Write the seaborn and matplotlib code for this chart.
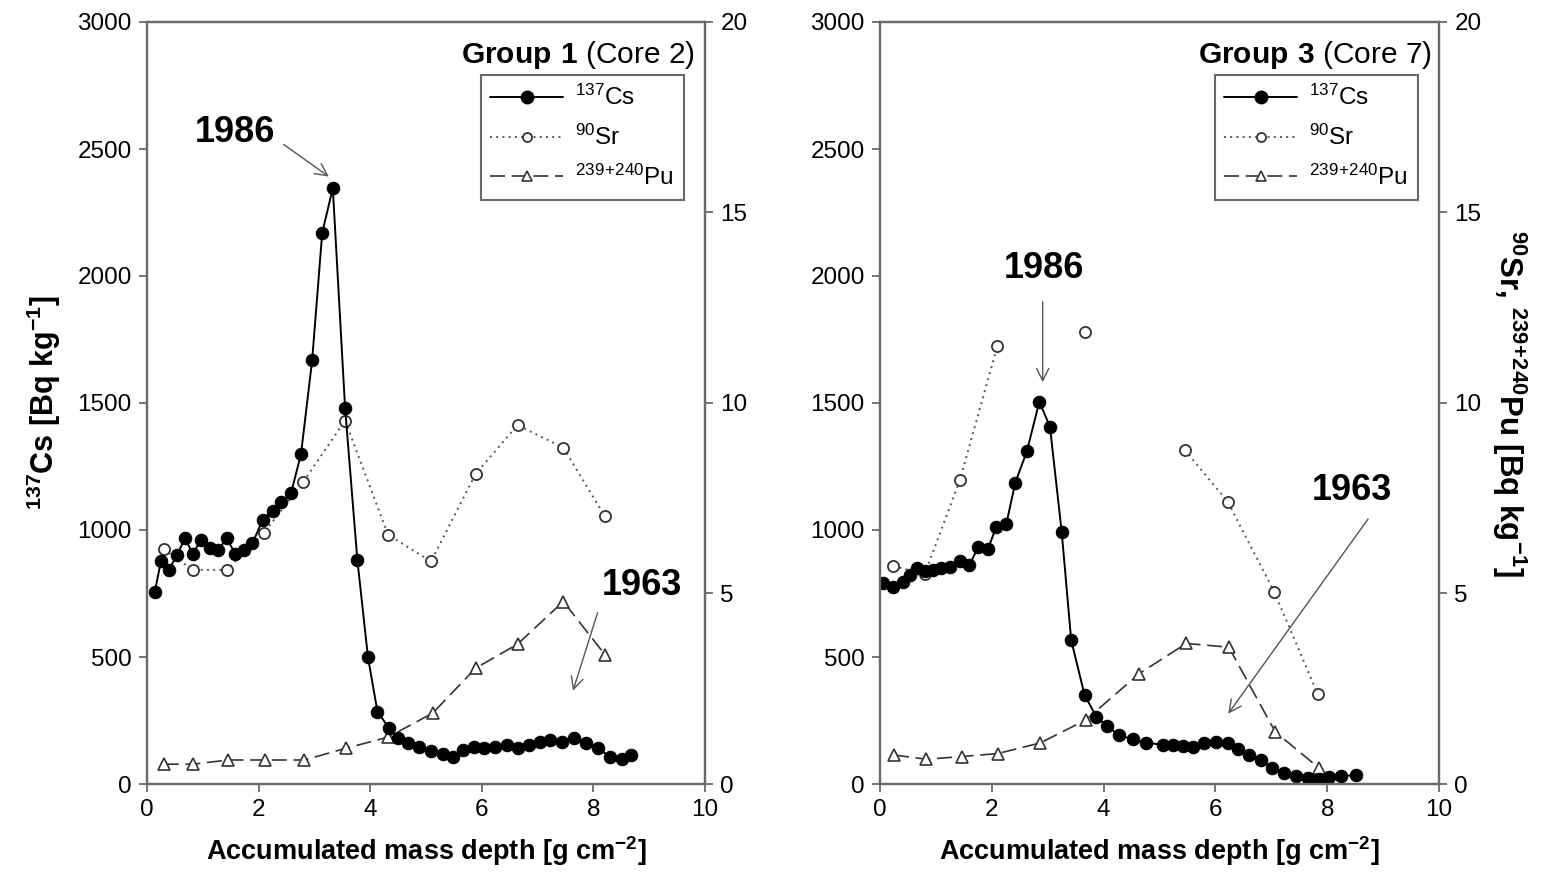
import numpy as np
import pandas as pd
import matplotlib
matplotlib.use("Agg")
import matplotlib.pyplot as plt
import seaborn as sns
from matplotlib.lines import Line2D

# ---------------- data ----------------
left_cs_x = [0.14, 0.25, 0.39, 0.54, 0.68, 0.82, 0.97, 1.13, 1.27, 1.43, 1.58, 1.73, 1.89, 2.07, 2.25,
             2.41, 2.58, 2.76, 2.96, 3.14, 3.33, 3.55, 3.77, 3.96, 4.13, 4.33, 4.49, 4.67, 4.88, 5.09,
             5.30, 5.49, 5.67, 5.86, 6.04, 6.23, 6.46, 6.65, 6.84, 7.04, 7.23, 7.44, 7.65, 7.86, 8.08,
             8.30, 8.51, 8.67]
left_cs_y = [757, 878, 843, 902, 967, 907, 961, 928, 921, 967, 907, 921, 947, 1039, 1076,
             1111, 1144, 1299, 1669, 2170, 2346, 1480, 882, 499, 285, 222, 180, 160, 144, 131,
             120, 107, 134, 147, 141, 144, 154, 141, 154, 167, 173, 167, 180, 160, 141,
             107, 100, 113]
left_sr_x = [0.30, 0.82, 1.43, 2.10, 2.80, 3.55, 4.32, 5.09, 5.89, 6.64, 7.46, 8.20]
left_sr_y = [6.16, 5.62, 5.62, 6.60, 7.93, 9.54, 6.54, 5.84, 8.14, 9.42, 8.83, 7.04]
left_pu_x = [0.30, 0.83, 1.45, 2.11, 2.82, 3.57, 4.32, 5.12, 5.89, 6.64, 7.46, 8.21]
left_pu_y = [0.52, 0.52, 0.63, 0.63, 0.63, 0.94, 1.23, 1.86, 3.04, 3.67, 4.79, 3.39]

right_cs_x = [0.06, 0.24, 0.41, 0.54, 0.67, 0.80, 0.95, 1.10, 1.25, 1.43, 1.60, 1.76, 1.93, 2.08, 2.26,
              2.42, 2.63, 2.85, 3.04, 3.25, 3.42, 3.66, 3.87, 4.06, 4.27, 4.52, 4.76, 5.06, 5.24, 5.42,
              5.60, 5.80, 6.01, 6.22, 6.40, 6.61, 6.82, 7.02, 7.23, 7.44, 7.65, 7.86, 8.04, 8.24, 8.52]
right_cs_y = [790, 774, 797, 823, 849, 840, 843, 849, 856, 878, 862, 934, 924, 1013, 1024,
              1186, 1312, 1505, 1407, 993, 567, 350, 265, 228, 193, 176, 163, 154, 154, 150,
              147, 160, 167, 160, 137, 114, 94, 62, 42, 31, 22, 18, 29, 31, 35]
right_sr_x = [0.24, 0.80, 1.43, 2.10, 3.66, 5.45, 6.22, 7.05, 7.83]
right_sr_y = [5.72, 5.51, 7.98, 11.50, 11.87, 8.77, 7.41, 5.05, 2.36]
right_sr_seg = [0, 0, 0, 0, 1, 2, 2, 2, 2]
right_pu_x = [0.25, 0.83, 1.46, 2.11, 2.87, 3.68, 4.64, 5.48, 6.24, 7.07, 7.86]
right_pu_y = [0.76, 0.65, 0.72, 0.80, 1.08, 1.68, 2.90, 3.69, 3.59, 1.37, 0.41]

titles = ["Group 1", "Group 3"]
subtitles = ["(Core 2)", "(Core 7)"]
x_ticks = [0, 2, 4, 6, 8, 10]
cs_ticks = [0, 500, 1000, 1500, 2000, 2500, 3000]
sr_ticks = [0, 5, 10, 15, 20]
legend_labels = [r"$^{137}$Cs", r"$^{90}$Sr", r"$^{239\!+\!240}$Pu"]

# ---------------- style ----------------
sns.set_theme(style="ticks")
plt.rcParams['font.family'] = ['Liberation Sans', 'DejaVu Sans']
plt.rcParams['mathtext.fontset'] = 'custom'
plt.rcParams['mathtext.rm'] = 'Liberation Sans'
plt.rcParams['mathtext.bf'] = 'Liberation Sans:bold'
plt.rcParams['mathtext.default'] = 'regular'
for k in ('text.color', 'axes.labelcolor', 'xtick.labelcolor', 'ytick.labelcolor'):
    plt.rcParams[k] = 'black'

SPINE = '#6a6a6a'
W, H = 1543, 880
fig = plt.figure(figsize=(W / 100, H / 100), dpi=100)
ax_l = fig.add_axes([147 / W, 1 - 784 / H, 558 / W, 762 / H])
ax_r = fig.add_axes([880 / W, 1 - 784 / H, 559 / W, 762 / H])

cs_kw = dict(color='black', linestyle='-', linewidth=1.4, marker='o', markersize=9,
             markerfacecolor='black', markeredgecolor='black')
sr_kw = dict(color='#555555', linestyle=(0, (1, 2.2)), linewidth=1.4, marker='o', markersize=8,
             markerfacecolor='white', markeredgecolor='#333333', markeredgewidth=1.3)
pu_kw = dict(color='#333333', linestyle=(0, (9, 4)), linewidth=1.2, marker='^', markersize=9,
             markerfacecolor='white', markeredgecolor='#333333', markeredgewidth=1.2)

panels = [
    (ax_l, left_cs_x, left_cs_y, left_sr_x, left_sr_y, [0] * len(left_sr_x), left_pu_x, left_pu_y),
    (ax_r, right_cs_x, right_cs_y, right_sr_x, right_sr_y, right_sr_seg, right_pu_x, right_pu_y),
]

twins = []
for i, (ax, csx, csy, srx, sry, srseg, pux, puy) in enumerate(panels):
    ax2 = ax.twinx()
    twins.append(ax2)
    df_cs = pd.DataFrame({'x': csx, 'y': csy})
    df_sr = pd.DataFrame({'x': srx, 'y': sry, 'seg': srseg})
    df_pu = pd.DataFrame({'x': pux, 'y': puy})
    sns.lineplot(data=df_sr, x='x', y='y', units='seg', estimator=None, sort=False, ax=ax2,
                 legend=False, **sr_kw)
    sns.lineplot(data=df_pu, x='x', y='y', estimator=None, sort=False, ax=ax2, legend=False, **pu_kw)
    ax.set_zorder(ax2.get_zorder() + 1)
    ax.patch.set_visible(False)
    sns.lineplot(data=df_cs, x='x', y='y', estimator=None, sort=False, ax=ax, legend=False, **cs_kw)

    ax.set_xlim(0, 10)
    ax.set_ylim(0, 3000)
    ax2.set_ylim(0, 20)
    ax.set_xticks(x_ticks)
    ax.set_yticks(cs_ticks)
    ax2.set_yticks(sr_ticks)
    ax.set_xlabel("Accumulated mass depth [g cm$^{-2}$]", fontsize=19.5, fontweight='bold', labelpad=9)
    ax.set_ylabel("")
    ax2.set_ylabel("")
    for a in (ax, ax2):
        a.tick_params(axis='both', direction='out', length=6, width=1.3, color=SPINE,
                      labelsize=17.5, pad=5, labelcolor='black')
        for s in a.spines.values():
            s.set_visible(True)
            s.set_color(SPINE)
            s.set_linewidth(1.6)

    # title and legend
    ax.text(0.982 if i == 0 else 0.987, 0.957,
            r"$\bf{" + titles[i].replace(" ", r"\ ") + r"}$ " + subtitles[i],
            transform=ax.transAxes, ha='right', va='center', fontsize=21.5, zorder=10)
    handles = [Line2D([], [], **cs_kw), Line2D([], [], **{**sr_kw, 'markersize': 6.5}),
               Line2D([], [], **{**pu_kw, 'markersize': 7})]
    leg = ax.legend(handles, legend_labels, loc='upper right',
                    bbox_to_anchor=(0.962, 0.930), fontsize=17.5, frameon=True, fancybox=False,
                    handlelength=3.0, handletextpad=0.5, labelspacing=0.6, borderpad=0.4,
                    borderaxespad=0)
    leg.get_frame().set_edgecolor('#444444')
    leg.get_frame().set_linewidth(1.5)

ax_l.set_ylabel(r"$^{137}$Cs [Bq kg$^{-1}$]", fontsize=22, fontweight='bold', labelpad=10)
twins[1].set_ylabel(r"$^{90}$Sr, $^{239\!+\!240}$Pu [Bq kg$^{-1}$]", fontsize=22.5, fontweight='bold',
                    rotation=270, labelpad=34)

# annotations
arrow_kw = dict(arrowstyle='->', color='#555555', lw=1.0, mutation_scale=22)

def mark(ax, label, txy, start, end):
    ax.text(txy[0], txy[1], label, fontsize=26, fontweight='bold', ha='center', va='center', zorder=12)
    ax.annotate('', xy=end, xytext=start, arrowprops=arrow_kw, zorder=12)

mark(ax_l, "1986", (1.57, 2563), (2.41, 2524), (3.30, 2385))
mark(ax_l, "1963", (8.87, 783), (8.09, 685), (7.62, 357))
mark(ax_r, "1986", (2.93, 2031), (2.91, 1909), (2.91, 1571))
mark(ax_r, "1963", (8.45, 1157), (8.76, 1052), (6.20, 268))

fig.savefig("out.png", dpi=100)
